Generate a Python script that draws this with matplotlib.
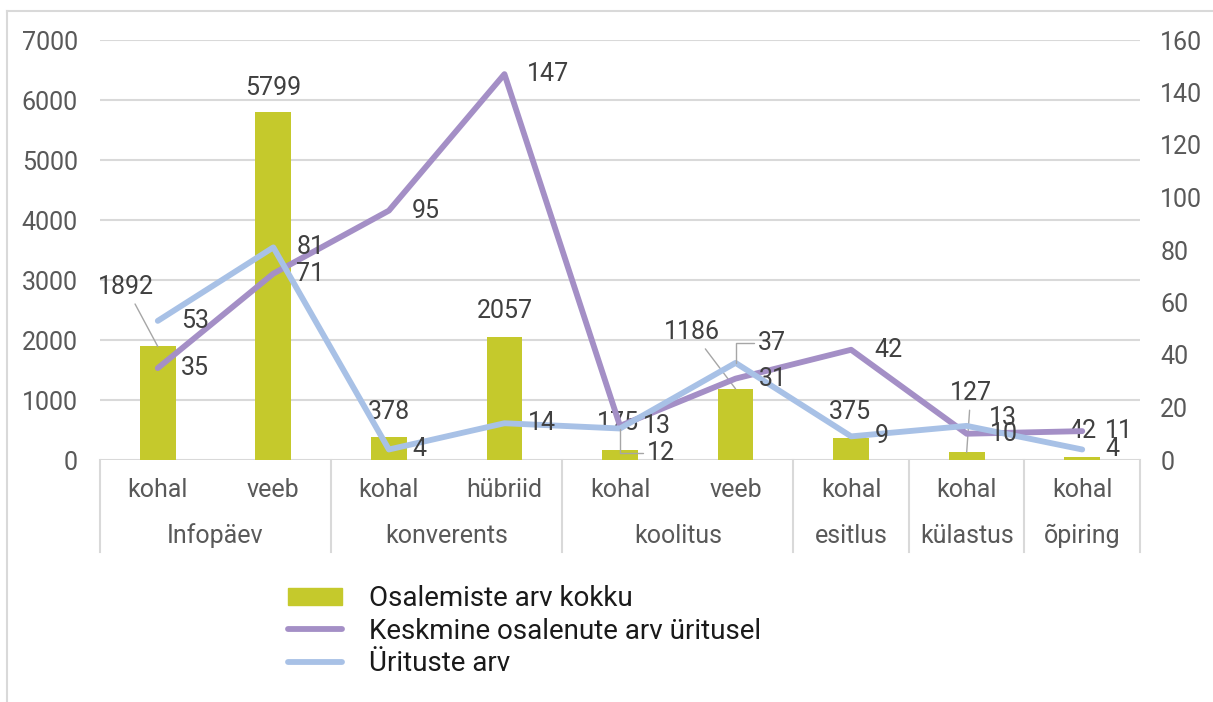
import matplotlib
matplotlib.use('Agg')
import matplotlib.pyplot as plt
from matplotlib.lines import Line2D
from matplotlib.patches import Patch
import matplotlib.transforms as mtransforms

plt.rcParams['font.family'] = ['Roboto', 'DejaVu Sans']

# data
sub_labels = ['kohal', 'veeb', 'kohal', 'hübriid', 'kohal', 'veeb', 'kohal', 'kohal', 'kohal']
groups = ['Infopäev', 'konverents', 'koolitus', 'esitlus', 'külastus', 'õpiring']
group_sizes = [2, 2, 2, 1, 1, 1]
osalemisi = [1892, 5799, 378, 2057, 175, 1186, 375, 127, 42]
keskmine = [35, 71, 95, 147, 13, 31, 42, 10, 11]
yritusi = [53, 81, 4, 14, 12, 37, 9, 13, 4]

BAR_C = '#c5c92c'
PURPLE = '#a48fc6'
BLUE = '#a8c1e6'
GRID = '#d9d9d9'
LBL = '#404040'
TICK = '#595959'
FS = 18

fig = plt.figure(figsize=(12.13, 7.02), dpi=100)
ax = fig.add_axes([100/1213, 1 - 460/702, 1040/1213, 420/702])
ax2 = ax.twinx()

x = list(range(len(osalemisi)))
ax.bar(x, osalemisi, width=0.31, color=BAR_C, zorder=2)
ax2.plot(x, keskmine, color=PURPLE, lw=4.2, solid_capstyle='round', solid_joinstyle='round', zorder=3)
ax2.plot(x, yritusi, color=BLUE, lw=4.2, solid_capstyle='round', solid_joinstyle='round', zorder=4)

ax.set_xlim(-0.5, 8.5)
ax.set_ylim(0, 7000)
ax2.set_ylim(0, 160)
ax.set_yticks(range(0, 7001, 1000))
ax2.set_yticks(range(0, 161, 20))
ax.yaxis.grid(True, color=GRID, lw=1.5)
ax.set_axisbelow(True)
for a in (ax, ax2):
    for s in a.spines.values():
        s.set_visible(False)
    a.tick_params(length=0, labelsize=FS, colors=TICK)
ax.tick_params(axis='y', pad=16)
ax2.tick_params(axis='y', pad=14.5)
ax.set_xticks([])

# category axis (two levels)
trans = mtransforms.blended_transform_factory(ax.transData, ax.transAxes)
for i, lab in enumerate(sub_labels):
    ax.text(i, -30/420, lab, transform=trans, ha='center', va='center', fontsize=FS, color=TICK)
pos = -0.5
bounds = [pos]
for g, n in zip(groups, group_sizes):
    ax.text(pos + n/2, -76/420, g, transform=trans, ha='center', va='center', fontsize=FS, color=TICK)
    pos += n
    bounds.append(pos)
for b in bounds:
    ax.plot([b, b], [0, -92/420], transform=trans, color=GRID, lw=1.5, clip_on=False)

# bar labels (offsets in points)
bar_off = [(-23, 43), (0, 17.5), (0, 18), (0, 18.5), (-1.5, 19), (-31, 41), (-1, 18.5), (3, 43), (0, 19)]
leader_bar = [0, 5, 7]
for i, v in enumerate(osalemisi):
    kw = {}
    if i in leader_bar:
        kw['arrowprops'] = dict(arrowstyle='-', color='#a6a6a6', lw=1, shrinkA=2, shrinkB=0)
    ax.annotate(str(v), (i, v), xytext=bar_off[i], textcoords='offset points',
                ha='center', va='center', fontsize=FS, color=LBL, zorder=6, **kw)

# line labels
for i, v in enumerate(keskmine):
    ax2.annotate(str(v), (i, v), xytext=(16.5, 0), textcoords='offset points',
                 ha='left', va='center', fontsize=FS, color=LBL, zorder=6)
blue_off = {4: (19.5, -17.5), 5: (16, 14.5), 7: (16, 6)}
for i, v in enumerate(yritusi):
    off = blue_off.get(i, (17, 0))
    kw = {}
    if i in (4, 5):
        kw['arrowprops'] = dict(arrowstyle='-', color='#a6a6a6', lw=1, shrinkA=1, shrinkB=0,
                                connectionstyle='angle,angleA=0,angleB=90,rad=0')
    ax2.annotate(str(v), (i, v), xytext=off, textcoords='offset points',
                 ha='left', va='center', fontsize=FS, color=LBL, zorder=6, **kw)

# legend
handles = [Patch(color=BAR_C),
           Line2D([], [], color=PURPLE, lw=4.2, solid_capstyle='round'),
           Line2D([], [], color=BLUE, lw=4.2, solid_capstyle='round')]
labels = ['Osalemiste arv kokku', 'Keskmine osalenute arv üritusel', 'Ürituste arv']
leg = fig.legend(handles, labels, loc='upper left', bbox_to_anchor=(288/1213, 1 - 585/702),
                 frameon=False, fontsize=20, handlelength=1.95, handleheight=0.55,
                 handletextpad=0.97, labelspacing=0.2, borderaxespad=0, borderpad=0)
for t in leg.get_texts():
    t.set_color('#1a1a1a')

# outer frame
fig.add_artist(Line2D([7/1213, 1], [1 - 11/702] * 2, transform=fig.transFigure, color=GRID, lw=1.5))
fig.add_artist(Line2D([7/1213] * 2, [0, 1 - 11/702], transform=fig.transFigure, color=GRID, lw=1.5))

fig.savefig('out.png', dpi=100)
